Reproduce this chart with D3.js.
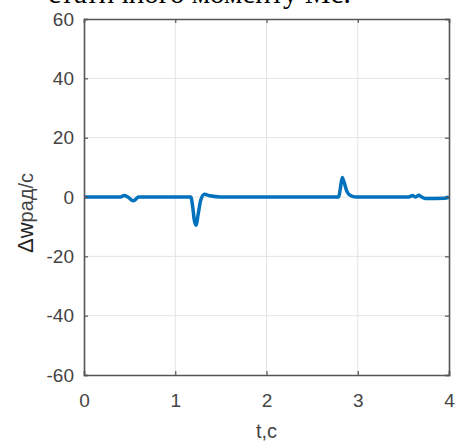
<!DOCTYPE html>
<html>
<head>
<meta charset="utf-8">
<script src="https://cdn.jsdelivr.net/npm/d3@7"></script>
<style>
  body { margin: 0; background: #fff; }
  svg { display: block; }
</style>
</head>
<body>
<div id="chart"></div>
<script>
// chart setup
const width = 457;
const height = 441;
const margin = {top: 19, right: 8, bottom: 66, left: 84};

// data
const xTicks = [0, 1, 2, 3, 4];
const yTicks = [-60, -40, -20, 0, 20, 40, 60];
const tValues = [0, 0.40, 0.44, 0.48, 0.54, 0.60, 0.66, 1.17, 1.19, 1.21, 1.23, 1.25, 1.28, 1.32, 1.38, 1.50,
  2.79, 2.81, 2.83, 2.85, 2.88, 2.92, 2.98, 3.56, 3.60, 3.63, 3.67, 3.70, 3.74, 3.95, 4.0];
const dwValues = [0, 0, 0.5, 0, -1.3, 0, 0, 0, -3, -8, -9.5, -6, -1, 0.9, 0.4, 0,
  0, 3, 6.6, 5, 2, 0.5, 0, 0, 0.5, 0, 0.6, 0, -0.5, -0.4, 0];

const svg = d3.select("#chart")
  .append("svg")
  .attr("width", width)
  .attr("height", height);

// cut-off caption line above the chart
svg.append("text")
  .attr("x", 48)
  .attr("y", 3)
  .attr("font-family", "Liberation Serif, Times New Roman, serif")
  .attr("font-size", 29)
  .attr("fill", "#000")
  .text("статичного моменту Мс.");

const x = d3.scaleLinear().domain([0, 4]).range([margin.left, width - margin.right]);
const y = d3.scaleLinear().domain([-60, 60]).range([height - margin.bottom, margin.top]);

// grid
svg.append("g")
  .selectAll("line.gx")
  .data(xTicks.slice(1, -1))
  .join("line")
  .attr("x1", d => x(d)).attr("x2", d => x(d))
  .attr("y1", y(60)).attr("y2", y(-60))
  .attr("stroke", "#e3e3e3")
  .attr("stroke-width", 1);

svg.append("g")
  .selectAll("line.gy")
  .data(yTicks.slice(1, -1))
  .join("line")
  .attr("x1", x(0)).attr("x2", x(4))
  .attr("y1", d => y(d)).attr("y2", d => y(d))
  .attr("stroke", "#e3e3e3")
  .attr("stroke-width", 1);

// line
const line = d3.line()
  .x((d, i) => x(tValues[i]))
  .y(d => y(d))
  .curve(d3.curveMonotoneX);

svg.append("path")
  .datum(dwValues)
  .attr("fill", "none")
  .attr("stroke", "#0072BD")
  .attr("stroke-width", 3.5)
  .attr("stroke-linejoin", "round")
  .attr("d", line);

// axes
const axisColor = "#555";
const labelColor = "#444";
const fmt = d => String(d);  // plain hyphen minus like the original

const xAxis = svg.append("g")
  .attr("transform", `translate(0,${y(-60)})`)
  .call(d3.axisBottom(x).tickValues(xTicks).tickSize(-4).tickPadding(19).tickFormat(fmt));
const xTop = svg.append("g")
  .attr("transform", `translate(0,${y(60)})`)
  .call(d3.axisTop(x).tickValues(xTicks).tickSize(-4).tickFormat(""));
const yAxis = svg.append("g")
  .attr("transform", `translate(${x(0)},0)`)
  .call(d3.axisLeft(y).tickValues(yTicks).tickSize(-4).tickPadding(10).tickFormat(fmt));
const yRight = svg.append("g")
  .attr("transform", `translate(${x(4)},0)`)
  .call(d3.axisRight(y).tickValues(yTicks).tickSize(-4).tickFormat(""));

[xAxis, xTop, yAxis, yRight].forEach(g => {
  g.select(".domain").attr("stroke", axisColor).attr("stroke-width", 1.6);
  g.selectAll(".tick line").attr("stroke", axisColor).attr("stroke-width", 1.2);
  g.selectAll(".tick text")
    .attr("fill", labelColor)
    .attr("font-family", "Liberation Sans, Arial, sans-serif")
    .attr("font-size", 19);
});

// axis labels
svg.append("text")
  .attr("x", x(2))
  .attr("y", 438)
  .attr("text-anchor", "middle")
  .attr("font-family", "Liberation Sans, Arial, sans-serif")
  .attr("font-size", 20)
  .attr("fill", labelColor)
  .text("t,c");

const yl = svg.append("text")
  .attr("transform", `translate(33,213) rotate(-90)`)
  .attr("text-anchor", "middle")
  .attr("font-family", "Liberation Sans, Arial, sans-serif")
  .attr("fill", "#222");
yl.append("tspan").attr("font-size", 22).text("Δw");
yl.append("tspan").attr("font-size", 20).attr("fill", labelColor).text("рад/с");
</script>
</body>
</html>
